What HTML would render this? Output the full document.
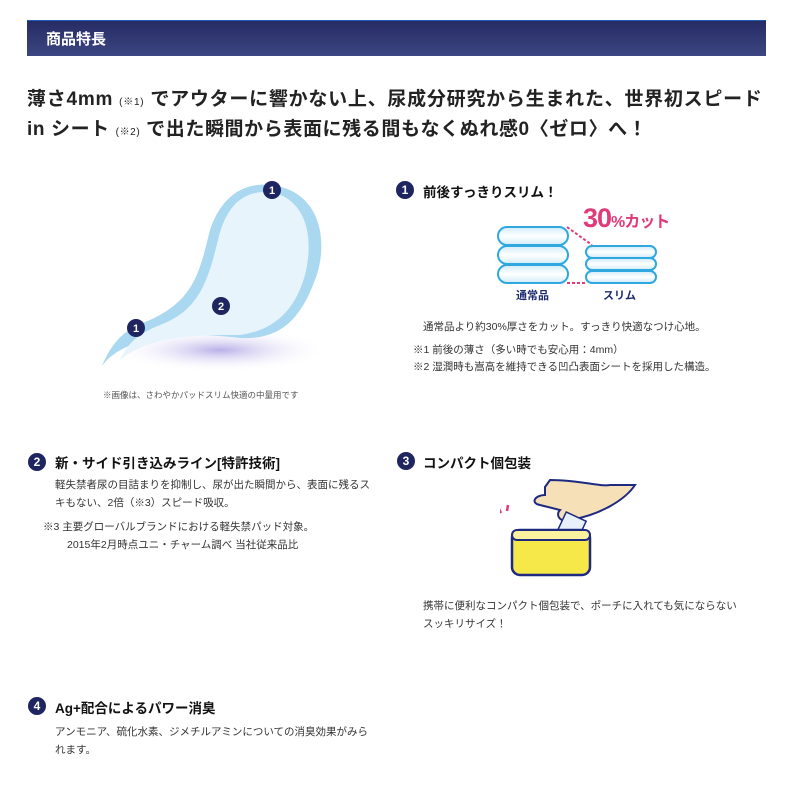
<!DOCTYPE html>
<html><head><meta charset="utf-8"><style>
body{margin:0;width:800px;height:800px;background:#fff;position:relative;overflow:hidden;font-family:"Liberation Sans","Noto Sans CJK JP",sans-serif;color:#222}
.a{position:absolute;white-space:nowrap}
.bar{left:27px;top:20px;width:739px;height:35px;background:linear-gradient(#262b63,#3c4682);border-top:1px solid #1d5bb5}
.n{position:absolute;width:18px;height:18px;border-radius:50%;background:#1e2560;color:#fff;font-size:12px;font-weight:bold;text-align:center;line-height:18px}
.h{font-size:13.5px;font-weight:bold;color:#111}
.t{font-size:10.5px;color:#333;line-height:18px}
.pill{position:absolute;border:2px solid #2fa8e0;border-radius:10px;background:linear-gradient(#d6eef9,#fff 50%,#d6eef9);box-sizing:border-box}
</style></head><body>
<div class="a bar"></div>
<div class="a" style="left:46px;top:28px;color:#fff;font-size:15px;font-weight:bold">商品特長</div>
<div class="a" style="left:27px;top:84px;font-size:19px;font-weight:bold;color:#222;letter-spacing:0.75px">薄さ4mm <span style="font-size:10px;font-weight:normal">(※1)</span> でアウターに響かない上、尿成分研究から生まれた、世界初スピード</div>
<div class="a" style="left:27px;top:114px;font-size:19px;font-weight:bold;color:#222;letter-spacing:0.6px">in シート <span style="font-size:10px;font-weight:normal">(※2)</span> で出た瞬間から表面に残る間もなくぬれ感0〈ゼロ〉へ！</div>

<svg class="a" style="left:90px;top:170px" width="250" height="220">
<defs><radialGradient id="sh" cx="0.5" cy="0.5" r="0.5"><stop offset="0" stop-color="#b8b0e8"/><stop offset="1" stop-color="#fff" stop-opacity="0"/></radialGradient></defs>
<ellipse cx="130" cy="180" rx="110" ry="22" fill="url(#sh)"/>
<path d="M12 196 C30 170 80 160 150 168 C190 170 210 150 225 110 C240 70 230 20 180 15 C150 12 130 30 120 60 C110 100 105 130 60 150 C40 158 25 165 12 196Z" fill="#a9d8f0"/>
<path d="M30 190 C60 165 110 165 150 165 C185 160 205 140 215 105 C225 65 215 28 180 22 C150 20 135 40 128 70 C118 110 110 140 70 155 C50 163 38 172 30 190Z" fill="#e8f4fb"/>
<circle cx="182" cy="20" r="9" fill="#1e2560"/><text x="182" y="24" fill="#fff" font-size="11" font-weight="bold" text-anchor="middle">1</text>
<circle cx="131" cy="136" r="9" fill="#1e2560"/><text x="131" y="140" fill="#fff" font-size="11" font-weight="bold" text-anchor="middle">2</text>
<circle cx="46" cy="158" r="9" fill="#1e2560"/><text x="46" y="162" fill="#fff" font-size="11" font-weight="bold" text-anchor="middle">1</text>
</svg>
<div class="a" style="left:103px;top:389px;font-size:8.5px;color:#555">※画像は、さわやかパッドスリム快適の中量用です</div>

<div class="n" style="left:396px;top:181px">1</div>
<div class="a h" style="left:423px;top:181px">前後すっきりスリム！</div>
<div class="pill" style="left:497px;top:226px;width:72px;height:20px"></div>
<div class="pill" style="left:497px;top:245px;width:72px;height:20px"></div>
<div class="pill" style="left:497px;top:264px;width:72px;height:20px"></div>
<div class="pill" style="left:585px;top:245px;width:72px;height:14px"></div>
<div class="pill" style="left:585px;top:257px;width:72px;height:14px"></div>
<div class="pill" style="left:585px;top:270px;width:72px;height:14px"></div>
<svg class="a" style="left:565px;top:225px" width="30" height="62"><line x1="2" y1="2" x2="27" y2="20" stroke="#e03a7a" stroke-width="2" stroke-dasharray="3,2"/><line x1="2" y1="58" x2="22" y2="58" stroke="#e03a7a" stroke-width="2" stroke-dasharray="3,2"/></svg>
<div class="a" style="left:583px;top:203px;color:#e03a7a;font-weight:bold;font-size:27px;letter-spacing:-1px">30<span style="font-size:16px">%カット</span></div>
<div class="a" style="left:516px;top:287px;font-size:11px;font-weight:bold;color:#1e2a70">通常品</div>
<div class="a" style="left:603px;top:287px;font-size:11px;font-weight:bold;color:#1e2a70">スリム</div>
<div class="a t" style="left:423px;top:318px">通常品より約30%厚さをカット。すっきり快適なつけ心地。</div>
<div class="a t" style="left:413px;top:341px">※1 前後の薄さ（多い時でも安心用：4mm）</div>
<div class="a t" style="left:413px;top:358px">※2 湿潤時も嵩高を維持できる凹凸表面シートを採用した構造。</div>

<div class="n" style="left:28px;top:453px">2</div>
<div class="a h" style="left:55px;top:452px">新・サイド引き込みライン[特許技術]</div>
<div class="a t" style="left:55px;top:476px">軽失禁者尿の目詰まりを抑制し、尿が出た瞬間から、表面に残るス<br>キもない、2倍（※3）スピード吸収。</div>
<div class="a t" style="left:43px;top:518px">※3 主要グローバルブランドにおける軽失禁パッド対象。</div>
<div class="a t" style="left:67px;top:536px">2015年2月時点ユニ・チャーム調べ 当社従来品比</div>

<div class="n" style="left:397px;top:452px">3</div>
<div class="a h" style="left:423px;top:452px">コンパクト個包装</div>
<svg class="a" style="left:500px;top:475px" width="170" height="110">
<path d="M50 5 C80 5 100 12 110 10 L135 10 C125 25 100 40 70 45 C60 48 55 40 60 35 L40 30 C30 28 35 20 45 20 L45 12 Z" fill="#f6e0b8" stroke="#1e2a80" stroke-width="2"/>
<rect x="58" y="40" width="22" height="35" transform="rotate(25 69 57)" fill="#e8f1fb" stroke="#1e2a80" stroke-width="1.5"/>
<rect x="12" y="55" width="78" height="45" rx="8" fill="#f7e84a" stroke="#1e2a80" stroke-width="2.5"/>
<rect x="12" y="55" width="78" height="10" rx="5" fill="#fbf2a0" stroke="#1e2a80" stroke-width="2"/>
<path d="M-8 40 l6 4 M-2 32 l3 6 M8 30 l-1 6" stroke="#e03a7a" stroke-width="2.5"/>
</svg>
<div class="a t" style="left:423px;top:597px">携帯に便利なコンパクト個包装で、ポーチに入れても気にならない<br>スッキリサイズ！</div>

<div class="n" style="left:28px;top:697px">4</div>
<div class="a h" style="left:55px;top:697px">Ag+配合によるパワー消臭</div>
<div class="a t" style="left:55px;top:723px">アンモニア、硫化水素、ジメチルアミンについての消臭効果がみら<br>れます。</div>
</body></html>
